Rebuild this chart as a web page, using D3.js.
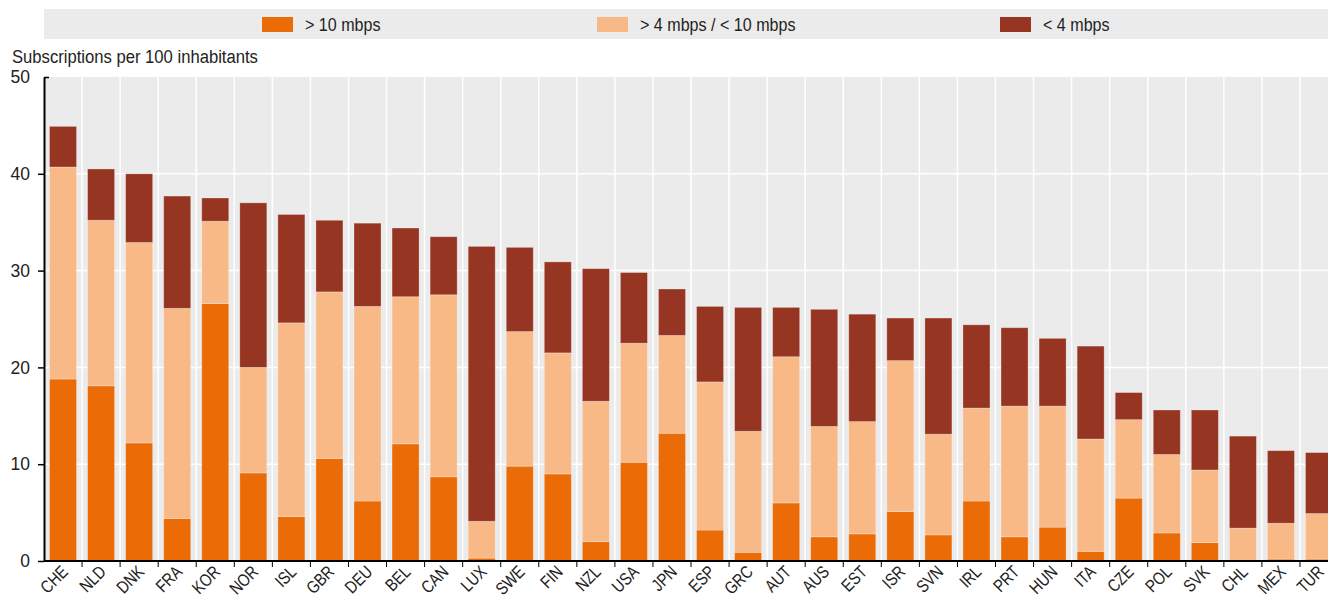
<!DOCTYPE html>
<html><head><meta charset="utf-8">
<script src="https://cdn.jsdelivr.net/npm/d3@7"></script>
<style>
html,body{margin:0;padding:0;background:#fff;}
svg{display:block;font-family:"Liberation Sans",Arial,sans-serif;}
</style></head>
<body>
<svg id="chart" width="1328" height="598"></svg>
<script>
const categories = ["CHE","NLD","DNK","FRA","KOR","NOR","ISL","GBR","DEU","BEL","CAN","LUX","SWE","FIN","NZL","USA","JPN","ESP","GRC","AUT","AUS","EST","ISR","SVN","IRL","PRT","HUN","ITA","CZE","POL","SVK","CHL","MEX","TUR"];
const above10 = [18.8,18.1,12.2,4.4,26.6,9.1,4.6,10.6,6.2,12.1,8.7,0.3,9.8,9.0,2.0,10.2,13.2,3.2,0.9,6.0,2.5,2.8,5.1,2.7,6.2,2.5,3.5,1.0,6.5,2.9,1.9,0.0,0.2,0.2];
const between4and10 = [21.9,17.1,20.7,21.7,8.5,10.9,20.0,17.2,20.1,15.2,18.8,3.8,13.9,12.5,14.5,12.3,10.1,15.3,12.5,15.1,11.4,11.6,15.6,10.4,9.6,13.5,12.5,11.6,8.1,8.1,7.5,3.4,3.7,4.7];
const below4 = [4.2,5.3,7.1,11.6,2.4,17.0,11.2,7.4,8.6,7.1,6.0,28.4,8.7,9.4,13.7,7.3,4.8,7.8,12.8,5.1,12.1,11.1,4.4,12.0,8.6,8.1,7.0,9.6,2.8,4.6,6.2,9.5,7.5,6.3];
const seriesNames = ["> 10 mbps","> 4 mbps / < 10 mbps","< 4 mbps"];
const seriesKeys = ["a","b","c"];
const colors = ["#eb6b07","#f8b987","#963622"];
const yTicks = [0,10,20,30,40,50];
const yLabel = "Subscriptions per 100 inhabitants";

(function(){
const rows = categories.map((c,i)=>({cat:c,a:above10[i],b:between4and10[i],c:below4[i]}));
const svg = d3.select("#chart");
const left = 44, plotTop = 77, bottom = 561;
const x = d3.scaleBand().domain(categories).range([left, left + 34*38.06]).paddingInner(0.29).paddingOuter(0.145);
const y = d3.scaleLinear().domain([0,50]).range([bottom, plotTop]);

// legend band
svg.append("rect").attr("x",44).attr("y",9).attr("width",1284).attr("height",30).attr("fill","#ebebeb");
const legX = [262, 597, 1000];
seriesNames.forEach((n,i)=>{
  svg.append("rect").attr("x",legX[i]).attr("y",17).attr("width",31).attr("height",15).attr("fill",colors[i]);
  svg.append("text").attr("transform",`translate(${legX[i]+43},30.5) scale(0.92,1)`)
    .attr("font-size",17.5).attr("fill","#222").text(n);
});

// plot background
svg.append("rect").attr("x",left).attr("y",plotTop).attr("width",1328-left).attr("height",bottom-plotTop).attr("fill","#ebebeb");
const step = x.step();
const bounds = categories.slice(1).map(c => x(c) - step*x.paddingInner()/2);
svg.append("g").selectAll("line").data(bounds).join("line")
  .attr("x1",d=>d).attr("x2",d=>d).attr("y1",plotTop).attr("y2",bottom)
  .attr("stroke","#fff").attr("stroke-width",1.5);
svg.append("g").selectAll("line").data(yTicks.filter(t=>t>0&&t<50)).join("line")
  .attr("x1",left).attr("x2",1328).attr("y1",d=>y(d)).attr("y2",d=>y(d))
  .attr("stroke","#fff").attr("stroke-width",1.5);

// stacks
const stack = d3.stack().keys(seriesKeys)(rows);
const g = svg.append("g");
stack.forEach((s,si)=>{
  g.append("g").selectAll("rect").data(s).join("rect")
    .attr("x",d=>x(d.data.cat)).attr("width",x.bandwidth())
    .attr("y",d=>y(d[1])).attr("height",d=>Math.max(0,y(d[0])-y(d[1])))
    .attr("fill",colors[si])
    .attr("stroke","rgba(255,255,255,0.35)").attr("stroke-width",0.8);
});

// y axis
const yAxis = d3.axisLeft(y).tickValues(yTicks).tickSize(6).tickSizeOuter(0).tickPadding(8);
const ya = svg.append("g").attr("transform",`translate(${left},0)`).call(yAxis);
ya.select(".domain").attr("stroke","#000").attr("stroke-width",2);
ya.selectAll(".tick line").attr("stroke","#000").attr("stroke-width",1.5);
ya.selectAll(".tick text").attr("font-size",17.5).attr("fill","#222").attr("font-family","inherit");
ya.select(".tick:last-of-type line").attr("x1",0).attr("x2",5);

// x axis
const xg = svg.append("g").attr("transform",`translate(0,${bottom})`);
xg.append("line").attr("x1",left).attr("x2",1328).attr("y1",0).attr("y2",0).attr("stroke","#000").attr("stroke-width",2);
xg.selectAll("line.tk").data(bounds).join("line").attr("class","tk")
  .attr("x1",d=>d).attr("x2",d=>d).attr("y1",0).attr("y2",6).attr("stroke","#000").attr("stroke-width",1);
xg.selectAll("text").data(categories).join("text")
  .attr("transform",d=>`translate(${x(d)+x.bandwidth()/2+6},${12}) rotate(-45) scale(0.82,1)`)
  .attr("text-anchor","end").attr("font-size",17.5).attr("fill","#222").text(d=>d);

svg.append("text").attr("transform","translate(12,63) scale(0.9,1)").attr("font-size",18.5).attr("fill","#222").text(yLabel);
})();
</script>
</body></html>
